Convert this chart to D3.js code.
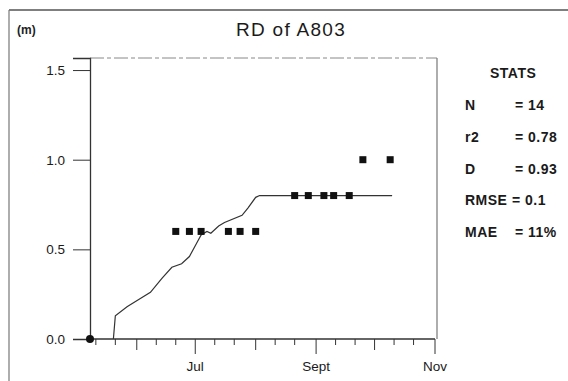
<!DOCTYPE html>
<html>
<head>
<meta charset="utf-8">
<script src="https://cdn.jsdelivr.net/npm/d3@7"></script>
<style>
  body { margin: 0; background: #fff; }
  svg { font-family: "Liberation Sans", Arial, sans-serif; }
  .tick-label { font-size: 13.5px; fill: #1a1a1a; }
  .stats text { font-size: 14px; font-weight: bold; fill: #1a1a1a; letter-spacing: 0.5px; }
</style>
</head>
<body>
<svg id="chart" width="568" height="381"></svg>
<script>
const obsDates = ["05-08", "06-21", "06-28", "07-04", "07-18", "07-24", "08-01",
  "08-21", "08-28", "09-05", "09-10", "09-18", "09-25", "10-09"];
const obsValues = [0, 0.6, 0.6, 0.6, 0.6, 0.6, 0.6, 0.8, 0.8, 0.8, 0.8, 0.8, 1.0, 1.0];

const simDates = ["05-20", "05-21", "05-27", "06-02", "06-08", "06-14", "06-19",
  "06-24", "06-28", "07-01", "07-04", "07-07", "07-09", "07-13", "07-16",
  "07-25", "07-28", "08-01", "08-03", "10-10"];
const simValues = [0, 0.13, 0.18, 0.22, 0.26, 0.34, 0.4, 0.42, 0.46, 0.52, 0.58,
  0.6, 0.59, 0.63, 0.65, 0.69, 0.73, 0.79, 0.8, 0.8];

const yTicks = [0, 0.5, 1.0, 1.5];
const monthTicks = ["06-01", "07-01", "08-01", "09-01", "10-01", "11-01"];
const monthLabels = { "07-01": "Jul", "09-01": "Sept", "11-01": "Nov" };
const minorTicks = ["05-11", "05-21", "06-11", "06-21", "07-11", "07-21", "08-11",
  "08-21", "09-11", "09-21", "10-11", "10-21"];

const statNames = ["N", "r2", "D", "RMSE", "MAE"];
const statValues = ["= 14", "= 0.78", "= 0.93", "= 0.1", "= 11%"];

const plot = { left: 90, right: 435, top: 58, bottom: 339 };
const parse = s => d3.timeParse("%Y-%m-%d")("1990-" + s);

const svg = d3.select("#chart");

const x = d3.scaleTime()
  .domain([parse("05-08"), parse("11-01")])
  .range([plot.left, plot.right]);

const y = d3.scaleLinear()
  .domain([0, (plot.bottom - plot.top) / 179.3])
  .range([plot.bottom, plot.top]);

// outer border (scan page frame)
svg.append("line").attr("x1", 9).attr("x2", 568).attr("y1", 10).attr("y2", 10)
  .attr("stroke", "#555").attr("stroke-width", 1.5);
svg.append("line").attr("x1", 9).attr("x2", 9).attr("y1", 10).attr("y2", 381)
  .attr("stroke", "#777").attr("stroke-width", 1.2);

svg.append("text").attr("x", 17).attr("y", 34).text("(m)")
  .attr("font-size", 12).attr("font-weight", "bold").attr("fill", "#222");

svg.append("text").attr("x", 291).attr("y", 36).attr("text-anchor", "middle")
  .attr("font-size", 19).attr("letter-spacing", 1.3).attr("fill", "#1a1a1a")
  .text("RD of A803");

// plot frame: top and right
svg.append("line").attr("x1", plot.left).attr("x2", plot.right + 2)
  .attr("y1", plot.top).attr("y2", plot.top)
  .attr("stroke", "#888").attr("stroke-dasharray", "14,3,4,3");
svg.append("line").attr("x1", plot.right + 2).attr("x2", plot.right + 2)
  .attr("y1", plot.top).attr("y2", plot.bottom)
  .attr("stroke", "#777").attr("stroke-width", 1.2);

// y axis
const yAxis = d3.axisLeft(y).tickValues(yTicks).tickSize(17).tickPadding(8)
  .tickFormat(d3.format(".1f"));
const gy = svg.append("g").attr("transform", `translate(${plot.left},0)`).call(yAxis);
gy.select(".domain").attr("stroke", "#333").attr("stroke-width", 1.3);
gy.selectAll(".tick line").attr("stroke", "#333");
gy.selectAll(".tick text").attr("class", "tick-label").attr("font-size", 13.5)
  .attr("font-family", "'Liberation Sans', Arial, sans-serif");

// x axis
svg.append("line").attr("x1", plot.left).attr("x2", plot.right)
  .attr("y1", plot.bottom).attr("y2", plot.bottom)
  .attr("stroke", "#333").attr("stroke-width", 1.3);

const tickG = svg.append("g");
tickG.selectAll(".minor").data(minorTicks).join("line")
  .attr("x1", d => x(parse(d))).attr("x2", d => x(parse(d)))
  .attr("y1", plot.bottom).attr("y2", plot.bottom + 6)
  .attr("stroke", "#333");
tickG.selectAll(".month").data(monthTicks).join("line")
  .attr("x1", d => x(parse(d))).attr("x2", d => x(parse(d)))
  .attr("y1", plot.bottom)
  .attr("y2", d => plot.bottom + (monthLabels[d] ? 15 : 11))
  .attr("stroke", "#333");
tickG.selectAll("text").data(monthTicks.filter(d => monthLabels[d])).join("text")
  .attr("class", "tick-label")
  .attr("x", d => x(parse(d)))
  .attr("y", plot.bottom + 32)
  .attr("text-anchor", "middle")
  .text(d => monthLabels[d]);

// simulated line
const sim = simDates.map((d, i) => ({ date: parse(d), value: simValues[i] }));
svg.append("path")
  .datum(sim)
  .attr("fill", "none")
  .attr("stroke", "#333")
  .attr("stroke-width", 1.2)
  .attr("d", d3.line().x(d => x(d.date)).y(d => y(d.value)));

// observations
const obs = obsDates.map((d, i) => ({ date: parse(d), value: obsValues[i] }));
svg.selectAll(".obs").data(obs.filter(d => d.value > 0)).join("rect")
  .attr("x", d => x(d.date) - 3.5)
  .attr("y", d => y(d.value) - 3.5)
  .attr("width", 7).attr("height", 7)
  .attr("fill", "#111");
svg.selectAll(".zero").data(obs.filter(d => d.value === 0)).join("circle")
  .attr("cx", d => x(d.date)).attr("cy", d => y(d.value))
  .attr("r", 4).attr("fill", "#111");

// stats panel
const stats = svg.append("g").attr("class", "stats");
stats.append("text").attr("x", 490).attr("y", 78).attr("letter-spacing", 1).text("STATS");
stats.selectAll(".name").data(statNames).join("text")
  .attr("x", 465).attr("y", (d, i) => 110 + i * 31.8).text(d => d);
stats.selectAll(".val").data(statValues).join("text")
  .attr("x", (d, i) => statNames[i] === "RMSE" ? 512 : 515)
  .attr("y", (d, i) => 110 + i * 31.8).text(d => d);
</script>
</body>
</html>
